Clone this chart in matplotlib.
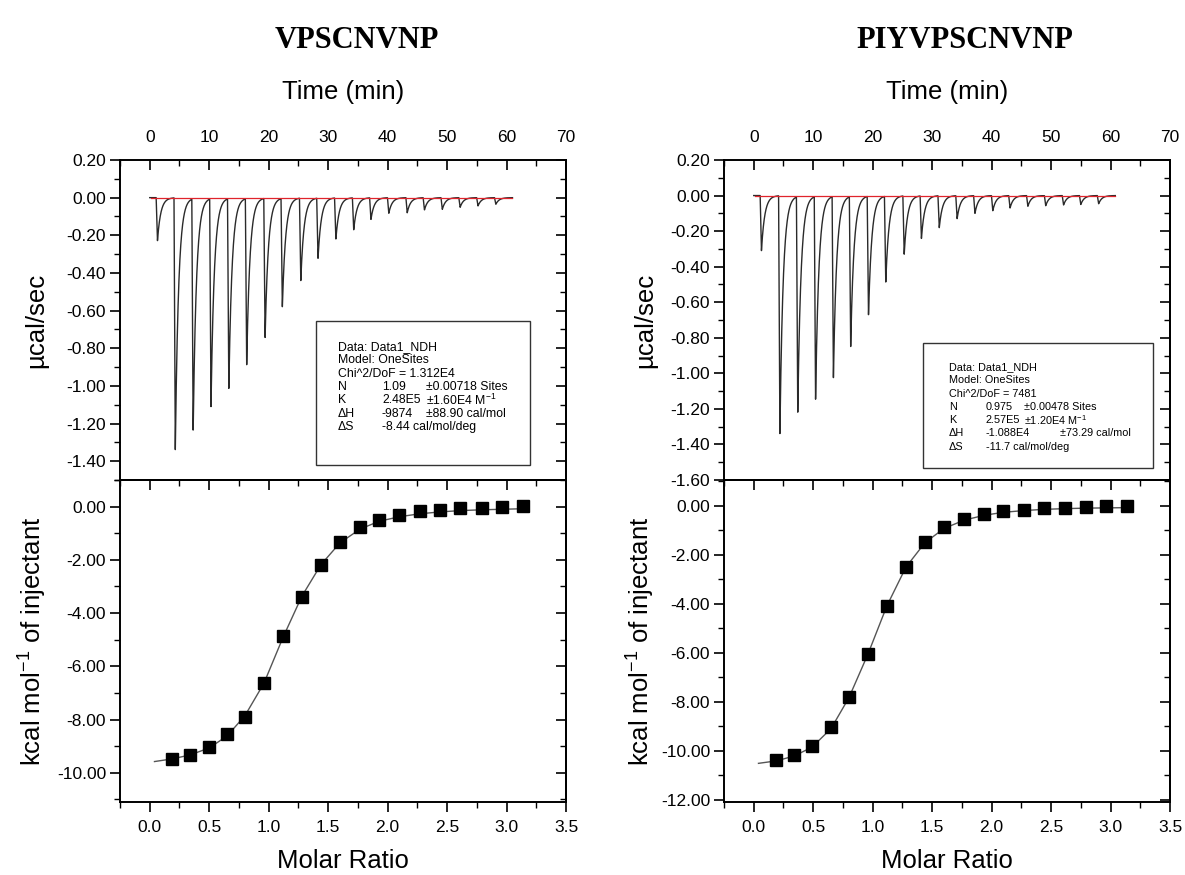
"""ITC panels for VPSCNVNP and PIYVPSCNVNP: raw heat trace on top, integrated heats below."""

import matplotlib

matplotlib.use("Agg")
import matplotlib.pyplot as plt
import numpy as np
from matplotlib.patches import Rectangle
from matplotlib.ticker import FormatStrFormatter, MultipleLocator

plt.rcParams["font.family"] = ["Liberation Sans", "DejaVu Sans"]
plt.rcParams["mathtext.fontset"] = "custom"
plt.rcParams["mathtext.rm"] = "Liberation Sans"
plt.rcParams["mathtext.it"] = "Liberation Sans:italic"
plt.rcParams["axes.linewidth"] = 1.4

W, H = 1185, 875

# ---- data ----
titles = ["VPSCNVNP", "PIYVPSCNVNP"]

# injection peaks: time (min) and depth (ucal/sec)
peak_t_left = [1.3, 4.3, 7.3, 10.3, 13.3, 16.3, 19.4, 22.3, 25.4, 28.3,
               31.3, 34.3, 37.2, 40.2, 43.3, 46.2, 49.2, 52.2, 55.2, 58.2]
peak_d_left = [-0.23, -1.34, -1.24, -1.11, -1.01, -0.89, -0.74, -0.58, -0.44, -0.32,
               -0.22, -0.17, -0.115, -0.083, -0.08, -0.065, -0.062, -0.051, -0.044, -0.035]
peak_t_right = [1.3, 4.4, 7.4, 10.4, 13.4, 16.3, 19.3, 22.2, 25.3, 28.2,
                31.2, 34.2, 37.2, 40.2, 43.1, 46.1, 49.1, 52.1, 55.0, 58.0]
peak_d_right = [-0.31, -1.34, -1.22, -1.15, -1.02, -0.85, -0.67, -0.485, -0.33, -0.24,
                -0.18, -0.13, -0.10, -0.085, -0.07, -0.06, -0.057, -0.053, -0.05, -0.046]
baseline_span = [(0.2, 61.0), (0.2, 60.8)]

# integrated heats (kcal/mol of injectant) vs molar ratio
ratio_left = [0.19, 0.34, 0.50, 0.65, 0.80, 0.96, 1.12, 1.28, 1.44, 1.60,
              1.77, 1.93, 2.10, 2.27, 2.44, 2.61, 2.79, 2.96, 3.14]
heat_left = [-9.50, -9.35, -9.05, -8.55, -7.92, -6.62, -4.88, -3.40, -2.20, -1.32,
             -0.77, -0.50, -0.30, -0.18, -0.12, -0.07, -0.04, -0.02, 0.02]
ratio_right = [0.19, 0.34, 0.49, 0.65, 0.80, 0.96, 1.12, 1.28, 1.44, 1.60,
               1.77, 1.94, 2.10, 2.27, 2.44, 2.62, 2.79, 2.96, 3.14]
heat_right = [-10.40, -10.18, -9.80, -9.03, -7.80, -6.05, -4.08, -2.48, -1.48, -0.88,
              -0.53, -0.33, -0.22, -0.15, -0.10, -0.08, -0.05, -0.02, 0.0]

# fitted curves
fit_x_left = [0.04, 0.19, 0.34, 0.50, 0.65, 0.80, 0.96, 1.12, 1.28, 1.44, 1.60,
              1.77, 1.93, 2.10, 2.27, 2.44, 2.61, 2.79, 2.96, 3.14]
fit_y_left = [-9.58, -9.48, -9.33, -9.07, -8.62, -7.86, -6.64, -4.92, -3.36, -2.18, -1.36,
              -0.84, -0.55, -0.38, -0.27, -0.20, -0.15, -0.12, -0.10, -0.08]
fit_x_right = [0.04, 0.19, 0.34, 0.49, 0.65, 0.80, 0.96, 1.12, 1.28, 1.44, 1.60,
               1.77, 1.94, 2.10, 2.27, 2.44, 2.62, 2.79, 2.96, 3.14]
fit_y_right = [-10.52, -10.42, -10.22, -9.86, -9.10, -7.84, -6.06, -4.08, -2.50, -1.50,
               -0.92, -0.58, -0.38, -0.26, -0.19, -0.14, -0.11, -0.09, -0.08, -0.07]

box_lines = [
    ["Data: Data1_NDH", "Model: OneSites", "Chi^2/DoF = 1.312E4",
     ("N", "1.09", "±0.00718 Sites"), ("K", "2.48E5", "±1.60E4 M$^{-1}$"),
     ("ΔH", "-9874", "±88.90 cal/mol"), ("ΔS", "-8.44 cal/mol/deg", "")],
    ["Data: Data1_NDH", "Model: OneSites", "Chi^2/DoF = 7481",
     ("N", "0.975", "±0.00478 Sites"), ("K", "2.57E5", "±1.20E4 M$^{-1}$"),
     ("ΔH", "-1.088E4", "±73.29 cal/mol"), ("ΔS", "-11.7 cal/mol/deg", "")],
]


def fx(px):
    return px / W


def fy(py):
    return 1 - py / H


def trace(times, depths, t_end):
    t = np.linspace(0, t_end, 8000)
    sig = np.zeros_like(t)
    rise, tau = 0.22, 0.55
    for tp, d in zip(times, depths):
        dt = t - (tp - rise)
        up = (dt >= 0) & (dt < rise)
        sig[up] += d * dt[up] / rise
        down = dt >= rise
        sig[down] += d * np.exp(-(dt[down] - rise) / tau)
    return t, sig


def right_ticks(ax, major, minor):
    sec = ax.secondary_yaxis("right")
    sec.yaxis.set_major_locator(MultipleLocator(major))
    sec.yaxis.set_minor_locator(MultipleLocator(minor))
    sec.tick_params(which="major", direction="in", length=7, width=1.2, labelright=False)
    sec.tick_params(which="minor", direction="in", length=4, width=1.0)
    sec.spines["right"].set_linewidth(1.4)


def style_y(ax, major, minor):
    ax.yaxis.set_major_locator(MultipleLocator(major))
    ax.yaxis.set_minor_locator(MultipleLocator(minor))
    ax.yaxis.set_major_formatter(FormatStrFormatter("%.2f"))
    ax.tick_params(axis="y", which="major", direction="out", length=7, width=1.2,
                   labelsize=12.5, pad=3)
    ax.tick_params(axis="y", which="minor", direction="out", length=4, width=1.0)
    ax.tick_params(axis="y", right=False)
    right_ticks(ax, major, minor)


panels = [
    dict(x0=120, title_x=357, peaks=(peak_t_left, peak_d_left), ylim_top=(-1.5, 0.2),
         ratio=ratio_left, heat=heat_left, fit=(fit_x_left, fit_y_left), ylim_bot=(-11.1, 1.0),
         box=(316, 321, 214, 144), text_x=(338, 382, 426), text_y=347, fs=8.8, ylab=-0.16),
    dict(x0=724, title_x=965, peaks=(peak_t_right, peak_d_right), ylim_top=(-1.6, 0.2),
         ratio=ratio_right, heat=heat_right, fit=(fit_x_right, fit_y_right), ylim_bot=(-12.1, 1.06),
         box=(923, 343, 230, 125), text_x=(949, 986, 1024), text_y=367, fs=7.8, ylab=-0.15),
]

fig = plt.figure(figsize=(W / 100, H / 100), dpi=100)

for i, p in enumerate(panels):
    ax_w = 446
    top = fig.add_axes([fx(p["x0"]), fy(480), ax_w / W, 320 / H])
    bot = fig.add_axes([fx(p["x0"]), fy(802), ax_w / W, 322 / H])

    # raw thermogram
    t, sig = trace(*p["peaks"], baseline_span[i][1])
    top.plot(t, sig, color="#2a2a2a", lw=1.0)
    top.plot(baseline_span[i], [0, 0], color="#e0242c", lw=0.9)
    top.set_xlim(-5, 70)
    top.set_ylim(*p["ylim_top"])
    top.xaxis.tick_top()
    top.xaxis.set_label_position("top")
    top.xaxis.set_major_locator(MultipleLocator(10))
    top.xaxis.set_minor_locator(MultipleLocator(5))
    top.tick_params(axis="x", which="major", direction="in", length=7, width=1.2,
                    labelsize=12.5, pad=11, bottom=False)
    top.tick_params(axis="x", which="minor", direction="in", length=4, width=1.0, bottom=False)
    top.set_xlabel("Time (min)", fontsize=18.5)
    top.xaxis.set_label_coords(0.5, 1.19)
    style_y(top, 0.2, 0.1)
    top.set_ylabel("µcal/sec", fontsize=18.5)
    top.yaxis.set_label_coords(p["ylab"], 0.5)

    # integrated heats
    bot.plot(*p["fit"], color="#555555", lw=1.0, zorder=2)
    bot.plot(p["ratio"], p["heat"], "s", color="black", ms=8, zorder=3)
    bot.set_xlim(-0.25, 3.5)
    bot.set_ylim(*p["ylim_bot"])
    bot.xaxis.set_major_locator(MultipleLocator(0.5))
    bot.xaxis.set_minor_locator(MultipleLocator(0.25))
    bot.xaxis.set_major_formatter(FormatStrFormatter("%.1f"))
    bot.tick_params(axis="x", which="major", direction="out", length=7, width=1.2,
                    labelsize=12.5, pad=6, top=False)
    bot.tick_params(axis="x", which="minor", direction="out", length=4, width=1.0, top=False)
    sec = bot.secondary_xaxis("top")
    sec.xaxis.set_major_locator(MultipleLocator(0.5))
    sec.xaxis.set_minor_locator(MultipleLocator(0.25))
    sec.tick_params(which="major", direction="in", length=7, width=1.2, labeltop=False)
    sec.tick_params(which="minor", direction="in", length=4, width=1.0)
    style_y(bot, 2, 1)
    bot.set_xlabel("Molar Ratio", fontsize=18.5, labelpad=10)
    bot.set_ylabel("kcal mol$^{-1}$ of injectant", fontsize=18.5)
    bot.yaxis.set_label_coords(p["ylab"], 0.5)

    # fit results box
    bx, by, bw, bh = p["box"]
    fig.add_artist(Rectangle((fx(bx), fy(by + bh)), bw / W, bh / H, transform=fig.transFigure,
                             facecolor="white", edgecolor="#333333", lw=1.0, zorder=5))
    x1, x2, x3 = p["text_x"]
    for k, line in enumerate(box_lines[i]):
        y = fy(p["text_y"] + k * 13.3)
        if isinstance(line, str):
            fig.text(fx(x1), y, line, fontsize=p["fs"], va="center", zorder=6)
        else:
            fig.text(fx(x1), y, line[0], fontsize=p["fs"], va="center", zorder=6)
            fig.text(fx(x2), y, line[1], fontsize=p["fs"], va="center", zorder=6)
            if line[2]:
                xx = 1060 if (i == 1 and line[0] == "ΔH") else x3
                fig.text(fx(xx), y, line[2], fontsize=p["fs"], va="center", zorder=6)

    fig.text(fx(p["title_x"]), fy(40), titles[i], fontsize=22, fontweight="bold",
             family=["Liberation Serif", "DejaVu Serif"], ha="center", va="center")

fig.savefig("out.png", dpi=100)
